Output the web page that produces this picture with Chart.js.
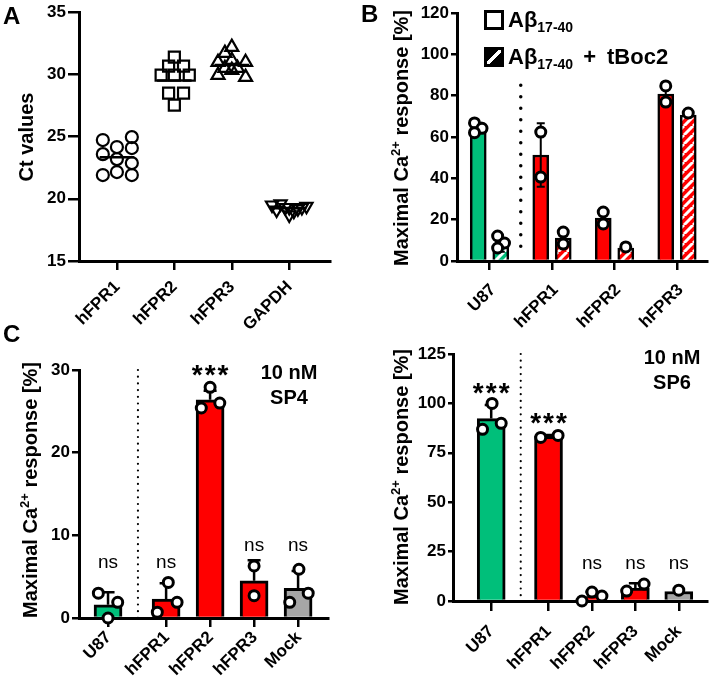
<!DOCTYPE html>
<html>
<head>
<meta charset="utf-8">
<script src="https://cdn.jsdelivr.net/npm/chart.js@4.4.1/dist/chart.umd.min.js"></script>
<style>
  body { margin: 0; background: #fff; }
  #wrap { position: relative; width: 715px; height: 688px; overflow: hidden; font-family: "Liberation Sans", Arial, sans-serif; color: #000; }
  canvas { position: absolute; }
  .letter { position: absolute; font-weight: bold; font-size: 24px; line-height: 24px; }
  .ytitle { position: absolute; font-weight: bold; font-size: 20px; line-height: 24px; white-space: nowrap; transform: translate(-50%, -50%) rotate(-90deg); }
  .ytitle .sup { font-size: 13px; position: relative; top: -8px; }
  .lg { position: absolute; font-weight: bold; font-size: 22px; line-height: 26px; white-space: nowrap; }
  .lg .sub { font-size: 14px; position: relative; top: 5px; }
  .box { position: absolute; width: 20px; height: 20px; box-sizing: border-box; border: 3px solid #000; background: #fff; }
  .box.hatch { background: linear-gradient(135deg, #000 0 40%, #fff 40% 60%, #000 60%); }
  .conc { position: absolute; width: 100px; text-align: center; font-weight: bold; font-size: 20px; line-height: 25px; }
</style>
</head>
<body>
<div id="wrap">
  <canvas id="chartA" width="340" height="340" style="left:0;top:0"></canvas>
  <canvas id="chartB" width="355" height="340" style="left:360px;top:0"></canvas>
  <canvas id="chartC" width="345" height="348" style="left:0;top:340px"></canvas>
  <canvas id="chartD" width="355" height="348" style="left:360px;top:340px"></canvas>

  <div class="letter" style="left:3px;top:4px">A</div>
  <div class="letter" style="left:361px;top:2px">B</div>
  <div class="letter" style="left:3px;top:322px">C</div>

  <div class="ytitle" style="left:26px;top:137px">Ct values</div>
  <div class="ytitle" style="left:402px;top:138px">Maximal Ca<span class="sup">2+</span> response [%]</div>
  <div class="ytitle" style="left:31px;top:490px">Maximal Ca<span class="sup">2+</span> response [%]</div>
  <div class="ytitle" style="left:402px;top:477px">Maximal Ca<span class="sup">2+</span> response [%]</div>

  <div class="box" style="left:484px;top:10px"></div>
  <div class="lg" style="left:508px;top:7px">Aβ<span class="sub">17-40</span></div>
  <div class="box hatch" style="left:484px;top:47px"></div>
  <div class="lg" style="left:508px;top:44px">Aβ<span class="sub">17-40</span><span style="margin:0 11px 0 10px">+</span>tBoc2</div>

  <div class="conc" style="left:239px;top:360px">10 nM<br>SP4</div>
  <div class="conc" style="left:622px;top:345px">10 nM<br>SP6</div>
</div>

<script>
// ---- Panel A: qPCR Ct values ----
const genesA = ['hFPR1', 'hFPR2', 'hFPR3', 'GAPDH'];
const ctFPR1 = [24.72, 23.59, 21.91, 24.16, 23.19, 22.15, 24.96, 24.08, 22.87, 21.91];
const ctFPR2 = [31.39, 30.66, 30.66, 29.94, 29.94, 29.94, 28.49, 28.49, 27.53];
const ctFPR3 = [32.19, 31.71, 30.98, 31.14, 30.98, 30.5, 30.5, 29.94, 29.78, 30.34];
const ctGAPDH = [19.5, 19.6, 19.3, 19.2, 19.4, 19.1, 19.3, 19.0, 18.7, 19.3];
const ctMeans = [23.35, 29.5, 30.75, 19.25];
const ticksA = [15, 20, 25, 30, 35];

// ---- Panel B: Abeta 17-40 with / without tBoc2 ----
const cellsB = ['U87', 'hFPR1', 'hFPR2', 'hFPR3'];
const abMean = [64.4, 51.3, 20.8, 80.8];
const abSD = [2.5, 15.4, 4.1, 5.5];
const abDots = [[66.8, 64.2, 62.1], [62.4, 40.6], [23.7, 17.9], [84.7, 76.9]];
const tbocMean = [7.5, 11.1, 6.3, 70.6];
const tbocSD = [3.0, 4.1, 0.5, 1.0];
const tbocDots = [[12.1, 8.7, 6.3], [14.0, 8.2], [6.8], [71.6]];
const ticksB = [0, 20, 40, 60, 80, 100, 120];

// ---- Panels C / D: 10 nM SP4 and SP6 ----
const cellsCD = ['U87', 'hFPR1', 'hFPR2', 'hFPR3', 'Mock'];
const sp4Mean = [1.6, 2.3, 26.4, 4.5, 3.6];
const sp4SD = [1.5, 1.9, 1.1, 2.5, 2.1];
const sp4Dots = [[3.0, 1.9, 0.0], [0.7, 4.3, 1.9], [25.4, 27.9, 26.0], [6.3, 2.7], [1.9, 5.9, 3.0]];
const sp4Sig = ['ns', 'ns', '***', 'ns', 'ns'];
const ticksC = [0, 10, 20, 30];

const sp6Mean = [92.3, 83.3, 2.3, 6.5, 4.8];
const sp6SD = [6.9, 0.7, 2.3, 2.5, 0];
const sp6Dots = [[86.9, 100, 89.9], [82.8, 83.8], [0.0, 4.5, 2.5], [5.0, 8.6], [5.5]];
const sp6Sig = ['***', '***', 'ns', 'ns', 'ns'];
const ticksD = [0, 25, 50, 75, 100, 125];

// ---- layout (positions on the x axes, jitter of the dots, label heights) ----
const posA = [0, 1, 2, 3];
const jitA = [
  [-0.245, -0.245, -0.245, 0, 0, 0, 0.26, 0.26, 0.26, 0.26],
  [0, -0.1, 0.16, -0.23, 0, 0.26, -0.1, 0.16, 0],
  [0, -0.12, -0.24, 0, 0.24, -0.12, 0.1, -0.24, 0.24, 0],
  [-0.3, -0.15, 0, 0.15, 0.3, -0.22, -0.07, 0.08, 0.0, 0.22]
];
const posB = [0, 1, 2, 3];
const shiftB = 0.18;
const jitAb = [[-0.06, 0.06, -0.06], [0, 0], [0, 0], [0, 0]];
const jitTb = [[-0.05, 0.06, -0.05], [0, 0], [0], [0]];
const posCD = [0, 1.32, 2.32, 3.32, 4.32];
const jitC = [[-0.22, 0.22, 0], [-0.2, 0.05, 0.25], [-0.2, 0, 0.22], [0, 0], [-0.19, 0.02, 0.23]];
const jitD = [[-0.2, 0.02, 0.23], [-0.18, 0.22], [-0.23, 0, 0.23], [-0.2, 0.2], [0]];
const sigYC = [6.7, 6.7, 30.3, 8.7, 8.7];
const sigYD = [109, 93.4, 18.7, 18.7, 18.7];

const GREEN = '#00BF7A';
const RED = '#FF0000';
const GREY = '#A6A6A6';
const FONT = '"Liberation Sans", Arial, sans-serif';
const XLAB = 17;

Chart.defaults.font.family = FONT;
Chart.defaults.color = '#000';

function stripes(color) {
  const c = document.createElement('canvas');
  c.width = c.height = 9;
  const g = c.getContext('2d');
  g.fillStyle = color;
  g.fillRect(0, 0, 9, 9);
  g.strokeStyle = '#fff';
  g.lineWidth = 3;
  g.beginPath();
  for (const o of [-9, 0, 9]) { g.moveTo(o, 9); g.lineTo(o + 9, 0); }
  g.stroke();
  return g.createPattern(c, 'repeat');
}

// x axis: tick marks from Chart.js, the 45° labels are drawn by the extras plugin
function xAxis(min, max, pos, tickLen, height) {
  return {
    type: 'linear', min, max, offset: false,
    afterBuildTicks: s => { s.ticks = pos.map(v => ({ value: v })); },
    afterFit: s => { s.height = height; },
    ticks: { display: false },
    grid: { offset: false, drawOnChartArea: false, tickLength: tickLen, lineWidth: 2.5, color: '#000' },
    border: { color: '#000', width: 3 }
  };
}

function yAxis(ticks, tickLen, width) {
  return {
    min: ticks[0], max: ticks[ticks.length - 1],
    afterBuildTicks: s => { s.ticks = ticks.map(v => ({ value: v })); },
    afterFit: s => { s.width = width; },
    ticks: { font: { size: 17, weight: 'bold' }, padding: 2 },
    grid: { drawOnChartArea: false, tickLength: tickLen, lineWidth: 2.5, color: '#000' },
    border: { color: '#000', width: 3 }
  };
}

function dotSet(values, pos, jit) {
  const pts = [];
  values.forEach((arr, i) => arr.forEach((v, k) => pts.push({ x: pos[i] + jit[i][k], y: v })));
  return {
    type: 'scatter', data: pts, order: 0, clip: false,
    pointStyle: 'circle', pointRadius: 5, pointBorderWidth: 3,
    pointBorderColor: '#000', pointBackgroundColor: '#fff'
  };
}

function barSet(means, pos, shift, colors, thick, bw) {
  return {
    type: 'bar', order: 2, grouped: false, clip: false,
    data: means.map((v, i) => ({ x: pos[i] + shift, y: v })),
    backgroundColor: colors, borderColor: '#000', borderWidth: bw,
    barThickness: thick, maxBarThickness: thick
  };
}

// error bars, dotted separators, mean lines, significance labels and x labels
function extras(cfg) {
  let done = false;
  const drawErrors = chart => {
    const { ctx, scales: { x, y } } = chart;
    ctx.save();
    ctx.strokeStyle = '#000';
    ctx.lineWidth = cfg.errWidth;
    cfg.errors.forEach(e => {
      if (!e.sd) return;
      const px = x.getPixelForValue(e.x);
      const top = y.getPixelForValue(e.y + e.sd);
      const bot = y.getPixelForValue(cfg.both ? e.y - e.sd : e.y);
      ctx.beginPath();
      ctx.moveTo(px, bot); ctx.lineTo(px, top);
      ctx.moveTo(px - cfg.cap, top); ctx.lineTo(px + cfg.cap, top);
      if (cfg.both) { ctx.moveTo(px - cfg.cap, bot); ctx.lineTo(px + cfg.cap, bot); }
      ctx.stroke();
    });
    ctx.restore();
  };
  return {
    id: 'extras',
    beforeDatasetsDraw(chart) {
      done = false;
      const { ctx, scales: { x, y } } = chart;
      if (cfg.divider) {
        const d = cfg.divider;
        const px = x.getPixelForValue(d.x);
        ctx.save();
        ctx.strokeStyle = '#000';
        ctx.lineWidth = d.width;
        ctx.lineCap = 'round';
        ctx.setLineDash([0, d.gap]);
        ctx.beginPath();
        ctx.moveTo(px, y.getPixelForValue(d.y1));
        ctx.lineTo(px, y.getPixelForValue(d.y0));
        ctx.stroke();
        ctx.restore();
      }
    },
    beforeDatasetDraw(chart, args) {
      if (!done && cfg.errors && chart.data.datasets[args.index].type === 'scatter') {
        drawErrors(chart);
        done = true;
      }
    },
    afterDatasetsDraw(chart) {
      const { ctx, scales: { x, y } } = chart;
      if (cfg.errors && !done) drawErrors(chart);
      ctx.save();
      if (cfg.means) {
        ctx.strokeStyle = '#000';
        ctx.lineWidth = 2.5;
        cfg.means.forEach(m => {
          const py = y.getPixelForValue(m.y);
          ctx.beginPath();
          ctx.moveTo(x.getPixelForValue(m.x - 0.3), py);
          ctx.lineTo(x.getPixelForValue(m.x + 0.3), py);
          ctx.stroke();
        });
      }
      if (cfg.notes) {
        ctx.fillStyle = '#000';
        ctx.textAlign = 'center';
        ctx.textBaseline = 'alphabetic';
        cfg.notes.forEach(n => {
          const px = x.getPixelForValue(n.x);
          const py = y.getPixelForValue(n.y);
          if (n.text === '***') {
            ctx.font = 'bold 28px ' + FONT;
            ctx.letterSpacing = '2px';
            ctx.fillText(n.text, px + 1, py + 16);
          } else {
            ctx.font = '19px ' + FONT;
            ctx.letterSpacing = '0px';
            ctx.fillText(n.text, px, py + 5);
          }
        });
      }
      ctx.restore();
    },
    afterDraw(chart) {
      // rotated category labels: baseline end sits at (tick + ax, axis + ay)
      const { ctx, scales: { x } } = chart;
      const lab = cfg.labels;
      ctx.save();
      ctx.fillStyle = '#000';
      ctx.font = 'bold ' + XLAB + 'px ' + FONT;
      ctx.textAlign = 'right';
      ctx.textBaseline = 'alphabetic';
      lab.pos.forEach((p, i) => {
        ctx.save();
        ctx.translate(x.getPixelForValue(p) + lab.ax, x.top + lab.ay);
        ctx.rotate(-Math.PI / 4);
        ctx.fillText(lab.text[i], 0, 0);
        ctx.restore();
      });
      ctx.restore();
    }
  };
}

const base = {
  responsive: false,
  animation: false,
  events: [],
  plugins: { legend: { display: false }, tooltip: { enabled: false } }
};

// ---- A ----
const shapesA = [
  { pointStyle: 'circle', pointRadius: 6 },
  { pointStyle: 'rect', pointRadius: 7.8 },
  { pointStyle: 'triangle', pointRadius: 7.5 },
  { pointStyle: 'triangle', pointRadius: 7, pointRotation: 180 }
];
const ctSets = [ctFPR1, ctFPR2, ctFPR3, ctGAPDH];
new Chart(document.getElementById('chartA'), {
  type: 'scatter',
  data: {
    datasets: ctSets.map((vals, i) => Object.assign({
      data: vals.map((v, k) => ({ x: posA[i] + jitA[i][k], y: v })),
      pointBorderColor: '#000', pointBackgroundColor: 'rgba(0,0,0,0)', pointBorderWidth: 2.2,
      clip: false
    }, shapesA[i]))
  },
  options: Object.assign({}, base, {
    layout: { padding: { top: 12, right: 10, left: 0, bottom: 0 } },
    scales: { x: xAxis(-0.66, 3.71, posA, 9, 79), y: yAxis(ticksA, 11, 79) }
  }),
  plugins: [extras({
    means: ctMeans.map((m, i) => ({ x: posA[i], y: m })),
    labels: { pos: posA, text: genesA, ax: 3.7, ay: 26.5 }
  })]
});

// ---- B ----
const solidB = cellsB.map((c, i) => (i === 0 ? GREEN : RED));
const hatchB = cellsB.map((c, i) => stripes(i === 0 ? GREEN : RED));
new Chart(document.getElementById('chartB'), {
  type: 'bar',
  data: {
    datasets: [
      dotSet(abDots, posB.map(p => p - shiftB), jitAb),
      dotSet(tbocDots, posB.map(p => p + shiftB), jitTb),
      barSet(abMean, posB, -shiftB, solidB, 16, 2.5),
      barSet(tbocMean, posB, shiftB, hatchB, 16, 2.5)
    ]
  },
  options: Object.assign({}, base, {
    layout: { padding: { top: 13, right: 0, left: 0, bottom: 0 } },
    scales: { x: xAxis(-0.52, 3.48, posB, 9, 79), y: yAxis(ticksB, 6, 97) }
  }),
  plugins: [extras({
    errWidth: 2, cap: 4, both: true,
    errors: abMean.map((m, i) => ({ x: posB[i] - shiftB, y: m, sd: abSD[i] }))
      .concat(tbocMean.map((m, i) => ({ x: posB[i] + shiftB, y: m, sd: tbocSD[i] }))),
    divider: { x: 0.5, y0: 3, y1: 85, width: 3.5, gap: 11.5 },
    labels: { pos: posB, text: cellsB, ax: 7, ay: 29.5 }
  })]
});

// ---- C and D ----
const colorsCD = [GREEN, RED, RED, RED, GREY];
function spChart(id, means, sds, dots, jit, sig, sigY, ticks, xr, yTick, yWidth, xTick, xHeight, padTop, padRight, lab) {
  new Chart(document.getElementById(id), {
    type: 'bar',
    data: {
      datasets: [
        dotSet(dots, posCD, jit),
        barSet(means, posCD, 0, colorsCD, 28, 3)
      ]
    },
    options: Object.assign({}, base, {
      layout: { padding: { top: padTop, right: padRight, left: 0, bottom: 0 } },
      scales: { x: xAxis(xr[0], xr[1], posCD, xTick, xHeight), y: yAxis(ticks, yTick, yWidth) }
    }),
    plugins: [extras({
      errWidth: 2.5, cap: 6.5, both: false,
      errors: means.map((m, i) => ({ x: posCD[i], y: m, sd: sds[i] })),
      divider: { x: 0.68, y0: 0, y1: ticks[ticks.length - 1], width: 2.2, gap: 6.7 },
      notes: sig.map((t, i) => ({ x: posCD[i], y: sigY[i], text: t })),
      labels: { pos: posCD, text: cellsCD, ax: lab[0], ay: lab[1] }
    })]
  });
}
spChart('chartC', sp4Mean, sp4SD, sp4Dots, jitC, sp4Sig, sigYC, ticksC, [-0.66, 5.0], 7, 79, 9, 70, 30, 17, [4, 20]);
spChart('chartD', sp6Mean, sp6SD, sp6Dots, jitD, sp6Sig, sigYD, ticksD, [-0.88, 4.97], 5, 93, 10, 87, 14, 3, [3.5, 31]);
</script>
</body>
</html>
